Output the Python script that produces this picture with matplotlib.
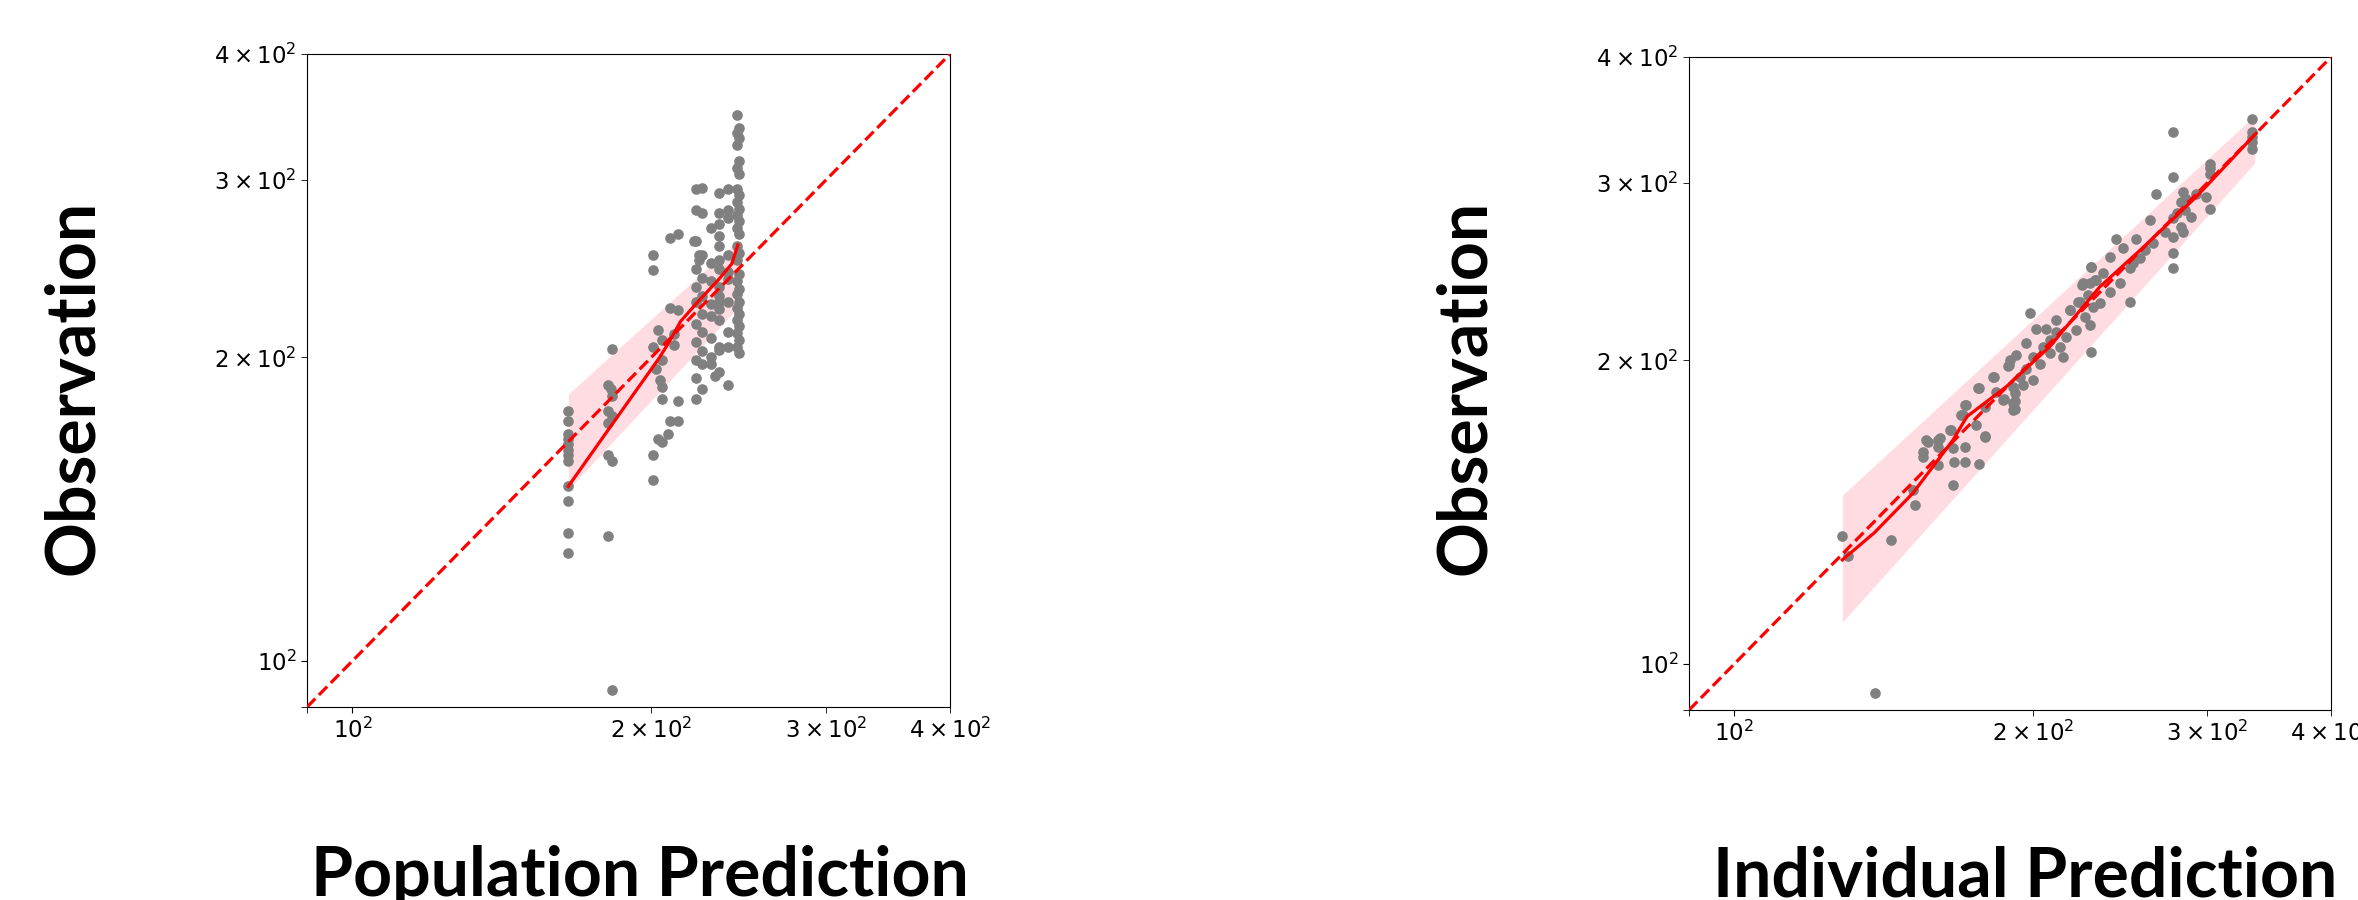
import numpy as np
import matplotlib.pyplot as plt

# Population prediction panel
pop_x = [165, 165, 165, 165, 165, 165, 165, 165, 165, 165, 165, 165,
         182.5, 181, 182, 182.5, 181, 182.5, 181, 181, 182.5, 181, 182.5,
         201, 201, 201, 202, 204, 205, 205, 201, 201, 203, 205, 205,
         209, 213, 209, 213, 211, 211, 213, 209, 213, 208, 205, 203,
         222, 222, 222, 222, 222, 222, 222, 222, 222, 222, 222,
         225, 225, 225, 225, 225, 225, 225, 225, 225, 224.8, 221, 223.5, 223.5,
         229.5, 229.5, 229.5, 229.5, 229.5, 229.5, 229.5, 229.5,
         234, 234, 234, 234, 234, 234, 234, 234, 234, 234, 234, 234, 234, 234, 234, 232,
         239, 239, 239, 239, 239, 239, 239, 239, 239, 239,
         244, 245, 244, 245, 244, 245, 244, 245, 244, 245, 244, 245, 244, 245, 244, 245,
         244, 245, 244, 245, 244, 245, 244, 245, 244, 245, 244, 245, 244, 245, 244, 245]
pop_y = [177, 173, 168, 166, 164, 162, 160, 158, 149, 144, 134, 128,
         204, 188, 186, 183, 177, 175, 172, 160, 158, 133, 93.6,
         253, 244, 205, 195, 190, 187, 182, 160, 151, 213, 208, 199,
         263, 265, 224, 223, 211, 206, 181, 173, 173, 168, 165, 166,
         294, 280, 261, 244.6, 235, 226.9, 216, 207, 199, 191, 182,
         278, 253, 240, 230, 221, 212, 203, 197, 186, 294.4, 260.7, 252.7, 249.6,
         269, 248, 238, 226, 220, 209, 200, 197,
         291, 278, 271, 264, 258, 250, 245, 235, 230, 227, 223.5, 218, 205, 203.5, 193.5, 191.5,
         294, 280, 275, 253, 243, 239, 227, 212, 205, 188,
         348, 337.5, 334, 330, 325, 313, 308, 304, 294, 290, 285.5, 281, 277, 273, 269, 265,
         258, 254, 250, 242, 238, 234, 231, 227, 224, 221, 218, 215, 211.5, 208, 205, 202]
pop_fit_x = [165, 182, 203.4, 208.2, 214.1, 222.3, 233.7, 241.1, 244.5]
pop_fit_y = [149, 170.8, 199.3, 206.7, 217.2, 226.5, 238.8, 247.7, 258.6]
pop_band_x = [165, 244.5]
pop_band_lo = [148, 224]
pop_band_hi = [184, 261]

# Individual prediction panel
ind_x = [128.5, 130.2, 143.8, 138.5, 152, 151.4, 154.9, 154.9, 156.7, 160.4,
         160.4, 160.4, 166.2, 165.5, 166.2, 166.7, 170.8, 170.8, 170, 170.8,
         176.4, 176.4, 179.2, 182.8, 187, 191.9, 191.9, 189.4,
         229.2, 224.4, 228.2, 230.9, 222.1, 230, 217.9, 225.6, 211.3, 198.6,
         228.2, 221.2, 216.2, 206.4, 201.6, 211.3, 208, 212.9, 204.8, 197,
         192.5, 200.1, 208, 214.5, 229.2, 189.5, 203.2, 188.8, 197, 194,
         200.1, 182.4, 191, 195.5, 191.7, 176.1, 183.8, 186.6, 191, 191,
         171.4, 169.4, 178.8, 175.4, 164.9, 178.8, 161.1, 156.2,
         333.2, 333.2, 333.2, 333.2, 333.2, 277.1, 277.1, 301.6, 301.6, 301.6,
         266.5, 283.6, 285.8, 282.5, 292.5, 299.4, 301.6, 289.1, 284.7, 279.3,
         277.1, 282.5, 283.6, 271.8, 262.4, 277.1, 264.5, 254.4, 242.9, 259.4,
         246.6, 277.1, 256.4, 252.5, 250.6, 239.2, 277.1, 229.2, 235.5, 231.9,
         224.8, 244.8, 239.2, 227.4, 250.6, 223.1, 233.7, 217.9]
ind_y = [133.8, 127.8, 132.8, 93.6, 143.8, 148.8, 162.3, 160.5, 166.1, 166.7,
         164, 157.6, 163.6, 170.6, 150.5, 158.6, 164, 158.6, 176.6, 180.7,
         187.8, 157.9, 168.2, 192.6, 183.2, 182.3, 179.1, 198,
         247.4, 237.6, 238.5, 240.3, 228.7, 226.1, 224.4, 221, 219.3, 222.7,
         216.8, 214.3, 211.1, 215.1, 215.1, 213.5, 209.5, 206.4, 206.4, 207.9,
         202.5, 201.7, 203.2, 201.7, 204, 200.1, 198.6, 197.4, 196.3, 192.7,
         191.2, 192.7, 188.3, 189.1, 185.5, 187.6, 186.2, 182.6, 181.3, 178.5,
         180.6, 176.5, 179.9, 172.5, 170.6, 168, 167.4, 166.7,
         347.5, 337.1, 333.3, 329.5, 324.5, 337.1, 304.1, 313.6, 310.1, 306.5,
         292.8, 293.9, 289.5, 287.3, 292.8, 290.6, 282.9, 277.6, 281.9, 279.8,
         276.6, 271.4, 268.3, 268.3, 275.5, 265.3, 261.3, 264.2, 264.2, 257.3,
         258.3, 255.4, 252.5, 249.6, 246.8, 253.5, 246.8, 247.7, 244, 240.3,
         238.5, 238.8, 233.9, 232.2, 228.7, 228.7, 227.9, 224.4]
ind_fit_x = [128.5, 138.5, 151.4, 166.2, 171.6, 188, 208, 214.7, 233.6, 256.7, 292.6, 336]
ind_fit_y = [126.8, 135, 147.7, 166.8, 175.9, 188.3, 206.3, 214.2, 236.5, 257.3, 290.8, 336]
ind_band_x = [128.5, 335]
ind_band_lo = [110, 314]
ind_band_hi = [147, 350]

lims = [90, 400]

fig = plt.figure(figsize=(23.58, 9), dpi=100)
ax1 = fig.add_axes([0.1302, 0.2144, 0.2727, 0.7256])
ax2 = fig.add_axes([0.7163, 0.2111, 0.2723, 0.7256])

panels = [
    (ax1, pop_x, pop_y, pop_fit_x, pop_fit_y, pop_band_x, pop_band_lo, pop_band_hi),
    (ax2, ind_x, ind_y, ind_fit_x, ind_fit_y, ind_band_x, ind_band_lo, ind_band_hi),
]
for ax, x, y, fx, fy, bx, blo, bhi in panels:
    ax.fill_between(bx, blo, bhi, color='pink', alpha=0.55, lw=0, zorder=1)
    ax.scatter(x, y, s=44, color='gray', zorder=2)
    ax.plot(fx, fy, color='red', lw=2.3, zorder=3)
    ax.plot(lims, lims, 'r--', lw=2.3, zorder=4)
    ax.set_xscale('log')
    ax.set_yscale('log')
    ax.set_xlim(lims)
    ax.set_ylim(lims)
    ax.tick_params(which='both', labelsize=16.5, length=4)

big = dict(family='Lato', fontweight='bold', fontsize=49)
fig.text(0.031, 0.569, 'Observation', rotation=90, ha='center', va='center', **big)
fig.text(0.2714, 0.0044, 'Population Prediction', ha='center', va='baseline', **big)
fig.text(0.6217, 0.569, 'Observation', rotation=90, ha='center', va='center', **big)
fig.text(0.859, 0.0044, 'Individual Prediction', ha='center', va='baseline', **big)

plt.savefig('out.png', dpi=100)
